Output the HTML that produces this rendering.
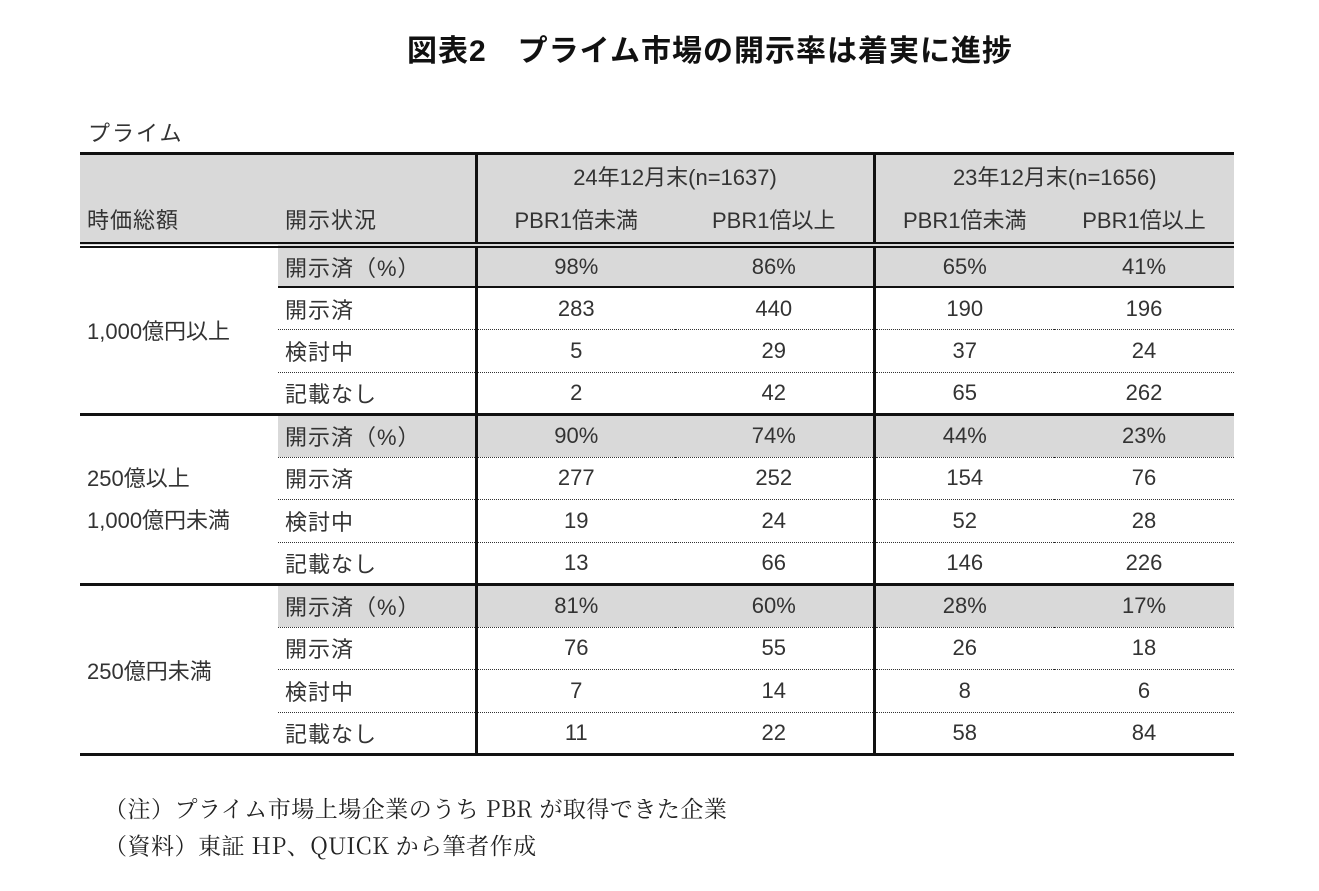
<!DOCTYPE html>
<html><head><meta charset="utf-8">
<style>
body{margin:0;width:1319px;height:891px;background:#fff;font-family:"Liberation Sans","Noto Sans CJK JP",sans-serif;color:#333;position:relative;overflow:hidden}
#title{position:absolute;left:0;width:1420px;top:26px;text-align:center;font-size:30px;font-weight:bold;color:#111;letter-spacing:1px}
#sub{position:absolute;left:88px;top:116px;font-size:22px;letter-spacing:2px}
table{position:absolute;left:80px;top:152px;border-collapse:collapse;table-layout:fixed;font-size:22px}
td{padding:0;height:42.5px;box-sizing:border-box;white-space:nowrap}
td.c{text-align:center}
td.l{padding-left:7px;letter-spacing:1px}
.g{background:#d9d9d9}
.vl{border-left:3px solid #111}
.top td{border-top:3px solid #111}
.hb td{border-bottom:6px double #111}
.bb td{border-bottom:3px solid #111}
.dt td{border-bottom:1.5px dotted #333}
.sl td{border-bottom:2px solid #111}
td.blk{border-bottom:3px solid #111 !important;padding-left:7px}
.note{position:absolute;left:104px;font-size:23px;font-family:"Noto Serif CJK SC","Liberation Serif",serif;color:#222;letter-spacing:0.5px}
</style></head><body>
<div id="title">図表2　プライム市場の開示率は着実に進捗</div>
<div id="sub">プライム</div>
<table>
<colgroup><col style="width:198px"><col style="width:198px"><col style="width:199px"><col style="width:199px"><col style="width:180px"><col style="width:180px"></colgroup>
<tr class="top g" style="height:43px"><td style="height:43px"></td><td></td><td class="c vl" colspan="2">24年12月末(n=1637)</td><td class="c vl" colspan="2">23年12月末(n=1656)</td></tr>
<tr class="hb g"><td class="l" style="height:48px">時価総額</td><td class="l">開示状況</td><td class="c vl">PBR1倍未満</td><td class="c">PBR1倍以上</td><td class="c vl">PBR1倍未満</td><td class="c">PBR1倍以上</td></tr>

<tr class="sl"><td class="blk" rowspan="4">1,000億円以上</td><td class="l g">開示済（%）</td><td class="c g vl">98%</td><td class="c g">86%</td><td class="c g vl">65%</td><td class="c g">41%</td></tr>
<tr class="dt"><td class="l">開示済</td><td class="c vl">283</td><td class="c">440</td><td class="c vl">190</td><td class="c">196</td></tr>
<tr class="dt"><td class="l">検討中</td><td class="c vl">5</td><td class="c">29</td><td class="c vl">37</td><td class="c">24</td></tr>
<tr class="bb"><td class="l">記載なし</td><td class="c vl">2</td><td class="c">42</td><td class="c vl">65</td><td class="c">262</td></tr>

<tr class="dt"><td class="blk" rowspan="4" style="line-height:42px">250億以上<br>1,000億円未満</td><td class="l g">開示済（%）</td><td class="c g vl">90%</td><td class="c g">74%</td><td class="c g vl">44%</td><td class="c g">23%</td></tr>
<tr class="dt"><td class="l">開示済</td><td class="c vl">277</td><td class="c">252</td><td class="c vl">154</td><td class="c">76</td></tr>
<tr class="dt"><td class="l">検討中</td><td class="c vl">19</td><td class="c">24</td><td class="c vl">52</td><td class="c">28</td></tr>
<tr class="bb"><td class="l">記載なし</td><td class="c vl">13</td><td class="c">66</td><td class="c vl">146</td><td class="c">226</td></tr>

<tr class="dt"><td class="blk" rowspan="4">250億円未満</td><td class="l g">開示済（%）</td><td class="c g vl">81%</td><td class="c g">60%</td><td class="c g vl">28%</td><td class="c g">17%</td></tr>
<tr class="dt"><td class="l">開示済</td><td class="c vl">76</td><td class="c">55</td><td class="c vl">26</td><td class="c">18</td></tr>
<tr class="dt"><td class="l">検討中</td><td class="c vl">7</td><td class="c">14</td><td class="c vl">8</td><td class="c">6</td></tr>
<tr class="bb"><td class="l">記載なし</td><td class="c vl">11</td><td class="c">22</td><td class="c vl">58</td><td class="c">84</td></tr>
</table>
<div class="note" style="top:791px">（注）プライム市場上場企業のうち PBR が取得できた企業</div>
<div class="note" style="top:828px">（資料）東証 HP、QUICK から筆者作成</div>
</body></html>
